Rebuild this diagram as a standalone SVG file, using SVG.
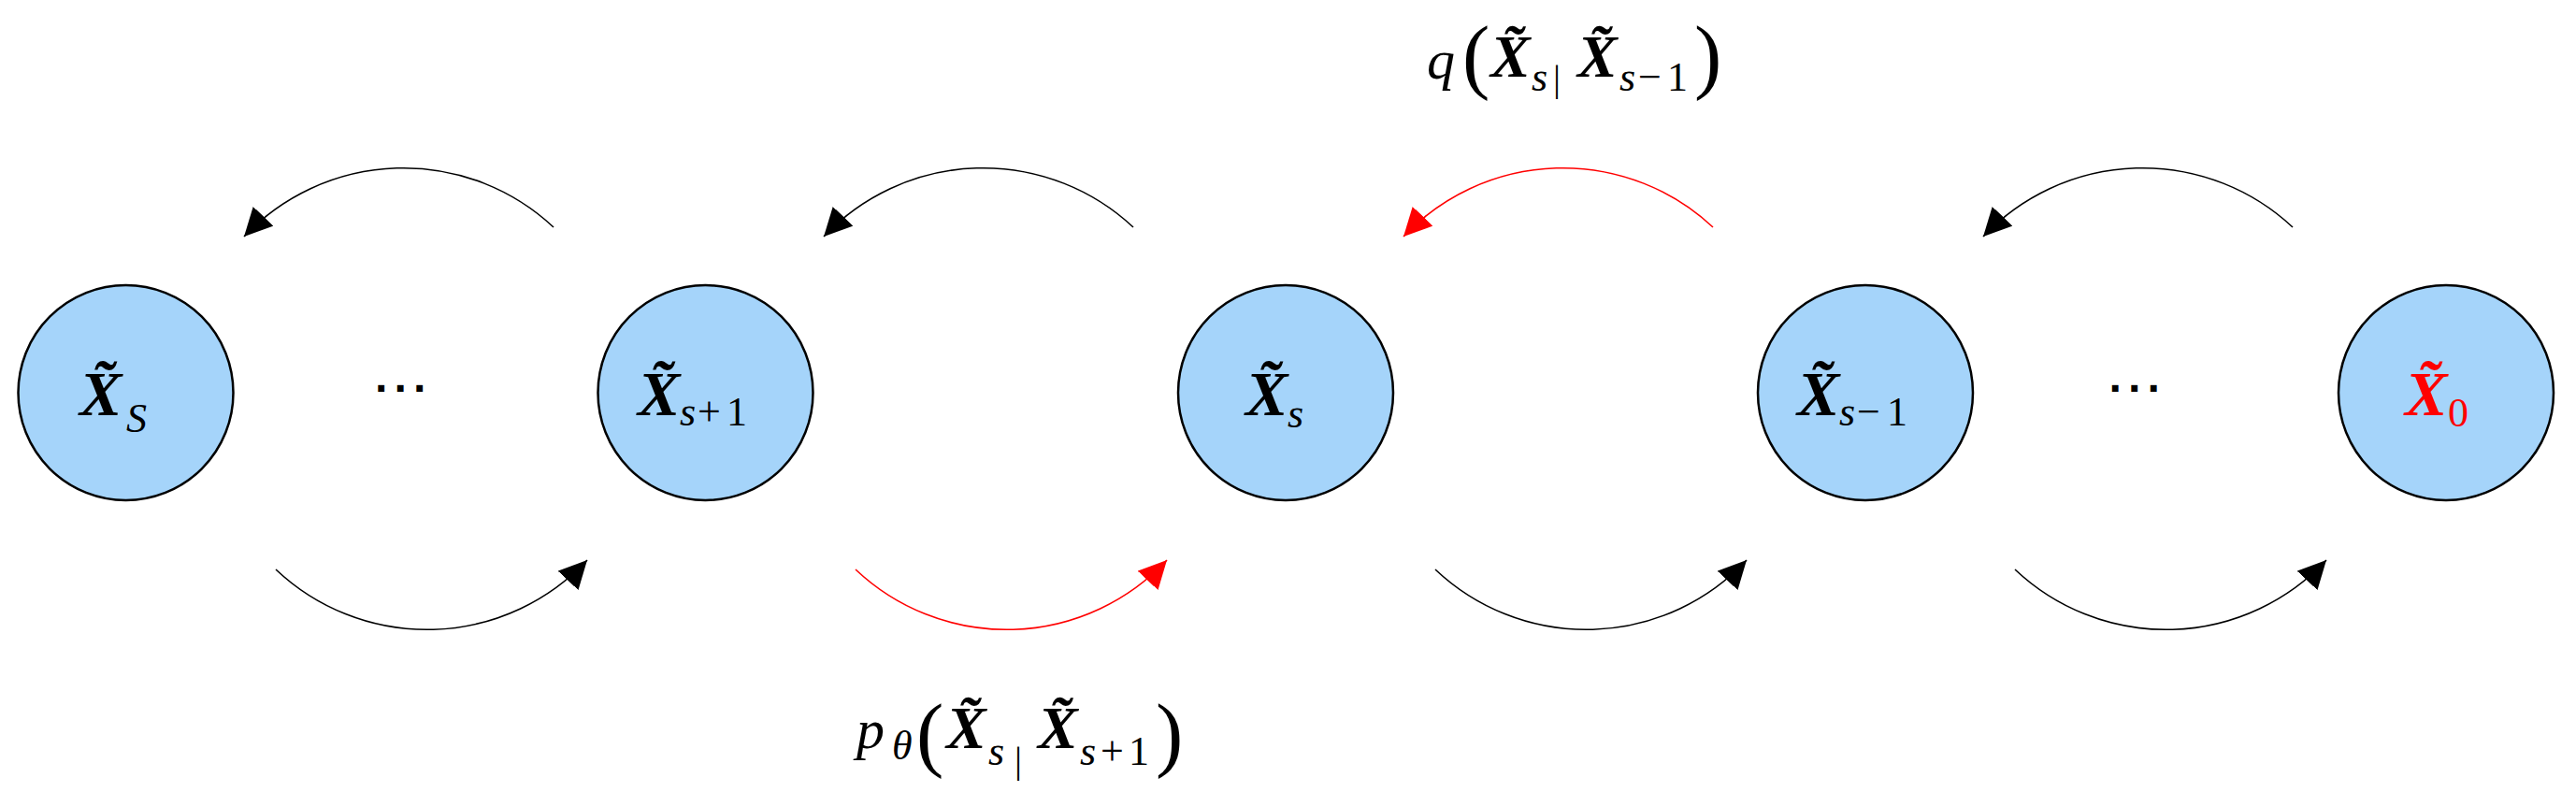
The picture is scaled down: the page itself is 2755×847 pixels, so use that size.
<svg xmlns="http://www.w3.org/2000/svg" width="2755" height="847" viewBox="0 0 2755 847">
<style>
.node{fill:#A5D4FA;stroke:#000;stroke-width:2.5}
.m{font-family:"Liberation Serif",serif}
.X{font-weight:bold;font-style:italic;font-size:68px}
.sub{font-style:italic;font-size:44px}
.up{font-style:normal}
.LX{font-weight:bold;font-style:italic;font-size:64px}
.Lit{font-style:italic;font-size:60px}
.par{font-size:88px}
.bar{font-size:40px}
.dots{font-family:"Liberation Sans",sans-serif;font-weight:bold;font-size:48px;text-anchor:middle}
.red{fill:#FF0000}
.arc{fill:none;stroke:#000;stroke-width:1.6}
.arcr{fill:none;stroke:#FF0000;stroke-width:1.6}
</style>
<defs>
<marker id="ah" viewBox="0 0 30 30" refX="30" refY="15" markerWidth="30" markerHeight="30" markerUnits="userSpaceOnUse" orient="auto"><path d="M0,0 L30,15 L0,30 z" fill="#000"/></marker>
<marker id="ahr" viewBox="0 0 30 30" refX="30" refY="15" markerWidth="30" markerHeight="30" markerUnits="userSpaceOnUse" orient="auto"><path d="M0,0 L30,15 L0,30 z" fill="#FF0000"/></marker>
</defs>
<rect width="2755" height="847" fill="#fff"/>
<g id="connectors">
<path class="arc" d="M592,243 A235,235 0 0 0 261,253" marker-end="url(#ah)"/>
<path class="arc" d="M1212,243 A235,235 0 0 0 881,253" marker-end="url(#ah)"/>
<path class="arcr" d="M1832,243 A235,235 0 0 0 1501,253" marker-end="url(#ahr)"/>
<path class="arc" d="M2452,243 A235,235 0 0 0 2121,253" marker-end="url(#ah)"/>
<path class="arc" d="M295,609 A235,235 0 0 0 628,599" marker-end="url(#ah)"/>
<path class="arcr" d="M915,609 A235,235 0 0 0 1248,599" marker-end="url(#ahr)"/>
<path class="arc" d="M1535,609 A235,235 0 0 0 1868,599" marker-end="url(#ah)"/>
<path class="arc" d="M2155,609 A235,235 0 0 0 2488,599" marker-end="url(#ah)"/>
</g>
<g id="node-XS">
<circle class="node" cx="134.5" cy="420" r="115"/>
<text class="m"><tspan class="X" x="85" y="444">X̃</tspan><tspan class="sub" x="135" y="462" font-size="50">S</tspan></text>
</g>
<g id="node-Xs1">
<circle class="node" cx="754.5" cy="420" r="115"/>
<text class="m"><tspan class="X" x="682" y="444">X̃</tspan><tspan class="sub" x="727" y="455">s</tspan><tspan class="sub up" x="746 777" y="455">+1</tspan></text>
</g>
<g id="node-Xs">
<circle class="node" cx="1375" cy="420" r="115"/>
<text class="m"><tspan class="X" x="1332" y="444">X̃</tspan><tspan class="sub" x="1377" y="457">s</tspan></text>
</g>
<g id="node-Xsm1">
<circle class="node" cx="1995" cy="420" r="115"/>
<text class="m"><tspan class="X" x="1922" y="444">X̃</tspan><tspan class="sub" x="1967" y="455">s</tspan><tspan class="sub up" x="1986 2018" y="455">−1</tspan></text>
</g>
<g id="node-X0">
<circle class="node" cx="2616" cy="420" r="115"/>
<text class="m red"><tspan class="X" x="2572" y="444">X̃</tspan><tspan class="sub up" x="2618" y="456" font-size="40">0</tspan></text>
</g>
<g id="ellipsis-1"><text class="dots" x="409 429.5 450" y="432">···</text></g>
<g id="ellipsis-2"><text class="dots" x="2263.5 2284 2304.5" y="432">···</text></g>
<g id="label-q">
<text class="m"><tspan class="Lit" x="1526" y="84">q</tspan><tspan class="par" x="1564" y="89">(</tspan><tspan class="LX" x="1594" y="82">X̃</tspan><tspan class="sub" x="1638" y="97">s</tspan><tspan class="bar" x="1661" y="97">|</tspan><tspan class="LX" x="1687" y="82">X̃</tspan><tspan class="sub" x="1732" y="97">s</tspan><tspan class="sub up" x="1752 1783" y="97">−1</tspan><tspan class="par" x="1812" y="89">)</tspan></text>
</g>
<g id="label-p">
<text class="m"><tspan class="Lit" x="916" y="800">p</tspan><tspan class="sub" x="954" y="812" font-size="40">θ</tspan><tspan class="par" x="980" y="814">(</tspan><tspan class="LX" x="1012" y="800">X̃</tspan><tspan class="sub" x="1057" y="818">s</tspan><tspan class="bar" x="1085" y="826">|</tspan><tspan class="LX" x="1110" y="800">X̃</tspan><tspan class="sub" x="1155" y="818">s</tspan><tspan class="sub up" x="1177 1207" y="818">+1</tspan><tspan class="par" x="1236" y="814">)</tspan></text>
</g>
</svg>
